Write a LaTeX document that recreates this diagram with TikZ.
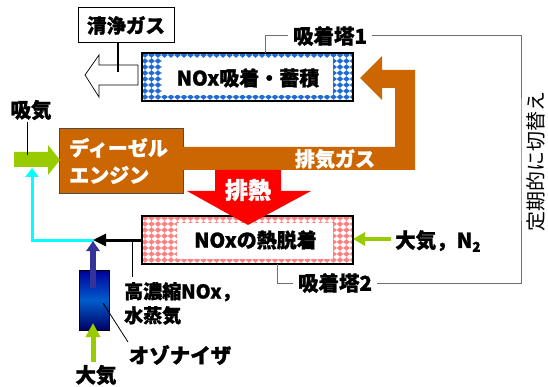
\documentclass[tikz,border=0pt]{standalone}
\usepackage{fontspec}
\setmainfont{Noto Sans CJK JP}[BoldFeatures={FakeBold=1.3}]
\usetikzlibrary{arrows.meta}
\definecolor{orng}{HTML}{CC6600}
\definecolor{grn}{HTML}{99CC00}
\definecolor{blu}{HTML}{1E6BD6}
\definecolor{pnk}{HTML}{FF8080}
\definecolor{navy}{HTML}{333399}
\definecolor{cyn}{HTML}{00FFFF}
\definecolor{redh}{HTML}{FF0000}
\definecolor{gln}{HTML}{707070}
\begin{document}
\begin{tikzpicture}[x=1pt,y=-1pt,
  lab/.style={font=\fontsize{20.5}{24}\selectfont\bfseries, inner sep=0pt},
  boxtxt/.style={font=\fontsize{20}{24}\selectfont\bfseries, inner sep=0pt},
  wtxt/.style={font=\fontsize{20}{27}\selectfont\bfseries, text=white, inner sep=0pt},
  gl/.style={gln, line width=1pt},
  lead/.style={black, line width=0.8pt}]
\useasboundingbox[fill=white] (0,0) rectangle (548,387);

% ---------- tower 1 (blue pattern) ----------
\begin{scope}
  \clip (142,53) rectangle (353,101);
  \foreach \x in {145,151.5,...,356} \foreach \y in {55,61,...,103}
    \fill[blu, shift={(\x,\y)}] (0,-2.8)--(3.3,0)--(0,2.8)--(-3.3,0)--cycle;
\end{scope}
\fill[white] (162,58) rectangle (333,95);
\node[draw=black, line width=1.5pt, minimum width=211pt, minimum height=48pt, inner sep=0pt] (tw1) at (247.5,77) {};
\node[boxtxt] (tw1t) at (248,78) {NOx吸着・蓄積};

% ---------- clean gas ----------
\draw[black, line width=0.7pt, fill=white] (138,65) -- (99,65) -- (99,55) -- (85,75) -- (99,97) -- (99,85) -- (138,85) -- cycle;
\node[draw=black, line width=1pt, fill=white, minimum width=96pt, minimum height=35pt, inner sep=0pt, font=\fontsize{19.5}{24}\selectfont\bfseries] (cg) at (126,25.5) {清浄ガス};
\coordinate (cgend) at (118,72);
\draw[lead, line width=1.2pt] (cg.south -| cgend) -- (cgend);

% ---------- exhaust band ----------
\fill[orng] (183,147) -- (395,147) -- (395,88) -- (382,88) -- (382,100) -- (360,78) -- (382,56) -- (382,70) -- (415,70) -- (415,170) -- (183,170) -- cycle;
\node[wtxt] (exg) at (335,159) {排気ガス};

% ---------- engine ----------
\fill[orng] (59,128) rectangle (184,193);
\draw[black!70, line width=0.8pt] (183,147) -- (183,128) -- (59,128) -- (59,193) -- (183,193) -- (183,170);
\coordinate (eng) at (121.5,160.5);
\node[wtxt, align=left, anchor=west] (engt) at (69,161) {ディーゼル\\エンジン};

% ---------- intake ----------
\fill[grn] (14,152) -- (48,152) -- (48,145) -- (60,160) -- (48,175) -- (48,167) -- (14,167) -- cycle;
\node[lab] (intake) at (31,110) {吸気};
\coordinate (intk) at (27,155);
\draw[lead] (intake.south -| intk) ++(0,2) -- (intk);

% ---------- tower 2 (pink pattern) ----------
\begin{scope}
  \clip (142,216) rectangle (353,264);
  \foreach \x in {145,151.5,...,356} \foreach \y in {218,224,...,266}
    \fill[pnk, shift={(\x,\y)}] (0,-2.8)--(3.3,0)--(0,2.8)--(-3.3,0)--cycle;
\end{scope}
\fill[white] (177,223) rectangle (333,259);
\node[draw=black, line width=1.5pt, minimum width=211pt, minimum height=48pt, inner sep=0pt] (tw2) at (247.5,240) {};
\node[boxtxt] (tw2t) at (255.5,240) {NOxの熱脱着};

% ---------- waste heat ----------
\fill[redh] (215,170) -- (281,170) -- (281,191) -- (311,191) -- (248,225) -- (187,191) -- (215,191) -- cycle;
\node[font=\fontsize{23}{26}\selectfont\bfseries, text=white, inner sep=0pt] (heat) at (248,190) {排熱};

% ---------- tower labels and switching ----------
\node[lab, inner xsep=5pt] (t1l) at (330,36) {吸着塔1};
\node[lab, inner xsep=5pt] (t2l) at (335,283) {吸着塔2};
\draw[gl] (265,53) |- (t1l.west);
\draw[gl] (277,264) |- (t2l.west);
\draw[gl] (t1l.east) -| (521,160) |- (t2l.east);
\node[rotate=90, font=\fontsize{20}{24}\selectfont, inner sep=0pt] (sw) at (536,162) {定期的に切替え};

% ---------- air / N2 ----------
\node[lab, anchor=west] (airn) at (395,241) {大気，N\raisebox{-0.35ex}{\fontsize{13.5}{14}\selectfont 2}};
\coordinate (airs) at (391,239);
\draw[grn, line width=4.5pt, -{Triangle[length=12pt,width=13pt]}] (airs) -- (353,239);

% ---------- desorbed gas path ----------
\coordinate (jn) at (93,240);
\draw[black, line width=3pt, -{Triangle[length=13pt,width=12pt]}] (tw2.west |- 0,240) -- (jn);
\draw[cyn, line width=3pt, -{Triangle[length=9pt,width=13pt]}] (94,240) -| (32,168);
\coordinate (hcl) at (132,277);
\draw[lead] (132,241) -- (hcl);
\node[align=left, anchor=north west, inner sep=0pt, font=\fontsize{19}{24}\selectfont\bfseries] (hc) at (124,282) {高濃縮NOx，\\水蒸気};

% ---------- ozonizer ----------
\node[draw=black, line width=0.8pt, minimum width=30pt, minimum height=60pt, inner sep=0pt,
      top color=blue!60!black, bottom color=blue!40!black, middle color=blue!55!cyan!80!black] (ozo) at (94,300) {};
\draw[navy, line width=5.5pt, -{Triangle[length=10pt,width=13pt]}] (93,288) -- (93,241);
\draw[grn, line width=5pt, -{Triangle[length=14pt,width=14pt]}] (93,362) -- (93,323);
\node[lab] (air) at (96,375) {大気};
\node[lab] (ozl) at (180,355) {オゾナイザ};
\coordinate (ozp) at (103,303);
\draw[lead] (ozp) -- (128,342);
\end{tikzpicture}
\end{document}
